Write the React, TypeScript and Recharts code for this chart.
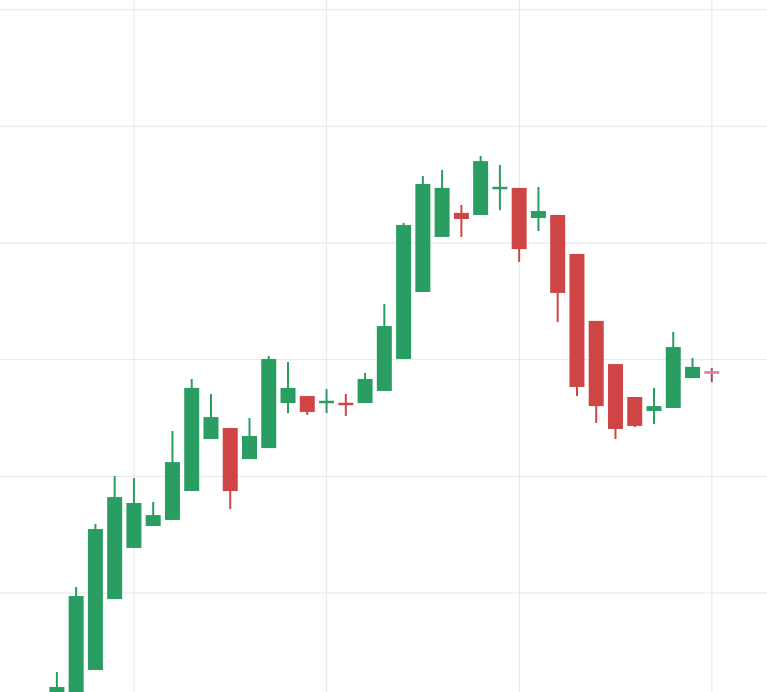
import React from "react";
import { ComposedChart, Bar, XAxis, YAxis, CartesianGrid } from "recharts";

// Candle index (session number)
const sessions = Array.from({ length: 35 }, (_, i) => i);

const opens = [
  35.2, 35.41, 36.7, 39.74, 41.93, 42.87, 43.13, 44.37, 46.6, 47.07,
  45.74, 46.21, 48.14, 48.44, 48.14, 48.14, 48.14, 48.66, 50.03, 52.9,
  55.26, 56.29, 56.2, 57.31, 57.36, 56.07, 56.2, 54.53, 51.66, 49.81,
  48.4, 47.8, 47.93, 49.21, 49.47,
];
const highs = [
  36.61, 40.26, 42.96, 45.01, 44.93, 43.9, 46.94, 49.17, 48.53, 47.07,
  47.5, 50.16, 49.9, 48.44, 48.74, 48.53, 49.43, 52.39, 55.86, 57.87,
  58.13, 56.63, 58.73, 58.34, 57.36, 57.4, 56.2, 54.53, 51.66, 49.81,
  48.4, 48.79, 51.19, 50.07, 49.64,
];
const lows = [
  34.99, 35.2, 36.7, 39.74, 41.93, 42.87, 43.13, 44.37, 46.6, 43.6,
  45.74, 46.21, 47.71, 47.63, 47.71, 47.59, 48.14, 48.66, 50.03, 52.9,
  55.26, 55.26, 56.2, 56.41, 54.19, 55.51, 51.61, 48.44, 47.29, 46.6,
  47.11, 47.24, 47.93, 49.21, 49.04,
];
const closes = [
  35.97, 39.87, 42.74, 44.11, 43.86, 43.34, 45.61, 48.79, 47.54, 44.37,
  46.73, 50.03, 48.79, 47.76, 48.23, 48.06, 49.17, 51.44, 55.77, 57.53,
  57.36, 56.03, 58.51, 57.4, 54.74, 56.37, 52.86, 48.83, 48.01, 47.03,
  47.16, 48.01, 50.54, 49.69, 49.43,
];

const gridPrices = [40, 45, 50, 55, 60, 65];
const gridSessions = [4, 14, 24, 34];

const UP = "#2a9d63";
const DOWN = "#cf4545";
const LAST_BODY = "#e57a93";
const LAST_WICK = "#a04b6b";

const data = sessions.map((t, i) => ({
  t,
  range: [lows[i], highs[i]],
  open: opens[i],
  close: closes[i],
  last: i === sessions.length - 1,
}));

const Candle = (props: any) => {
  const { x, y, width, height, payload } = props;
  if (payload == null || x == null) return null;
  const low = payload.range[0];
  const high = payload.range[1];
  const h = Math.abs(height);
  const top0 = height >= 0 ? y : y + height;
  const ratio = h / (high - low);
  const yOf = (v: number) => top0 + (high - v) * ratio;
  const up = payload.close >= payload.open;
  let body = up ? UP : DOWN;
  let wick = body;
  if (payload.last) {
    body = LAST_BODY;
    wick = LAST_WICK;
  }
  const bTop = yOf(Math.max(payload.open, payload.close));
  const bBot = yOf(Math.min(payload.open, payload.close));
  const bh = Math.max(bBot - bTop, 2.5);
  const cx = x + width / 2;
  return (
    <g>
      <line x1={cx} x2={cx} y1={top0} y2={top0 + h} stroke={wick} strokeWidth={2} />
      <rect x={x} y={bh > bBot - bTop ? (bTop + bBot) / 2 - bh / 2 : bTop} width={width} height={bh} fill={body} />
    </g>
  );
};

const scaleOf = (axis: any) => {
  const s = axis && axis.scale;
  if (typeof s === "function") return s;
  if (s && typeof s.map === "function") return (v: number) => s.map(v);
  return null;
};

const hGen = ({ yAxis }: any) => {
  const s = scaleOf(yAxis);
  return s ? gridPrices.map((p) => s(p)) : [];
};
const vGen = ({ xAxis }: any) => {
  const s = scaleOf(xAxis);
  return s ? gridSessions.map((t) => s(t)) : [];
};

export default function App() {
  return (
    <div style={{ position: "absolute", left: 0, top: 0, width: 767, height: 692, background: "#fff" }}>
      <ComposedChart width={767} height={692} data={data} margin={{ top: 0, right: 0, bottom: 0, left: 0 }}>
        <CartesianGrid
          stroke="#e6e6e6"
          strokeWidth={1}
          horizontalCoordinatesGenerator={hGen}
          verticalCoordinatesGenerator={vGen}
        />
        <XAxis
          dataKey="t"
          type="number"
          domain={[-2.96, 36.86]}
          ticks={gridSessions}
          allowDataOverflow
          hide
        />
        <YAxis
          type="number"
          domain={[35.757, 65.414]}
          ticks={gridPrices}
          allowDataOverflow
          hide
        />
        <Bar dataKey="range" barSize={15} shape={<Candle />} isAnimationActive={false} />
      </ComposedChart>
    </div>
  );
}
